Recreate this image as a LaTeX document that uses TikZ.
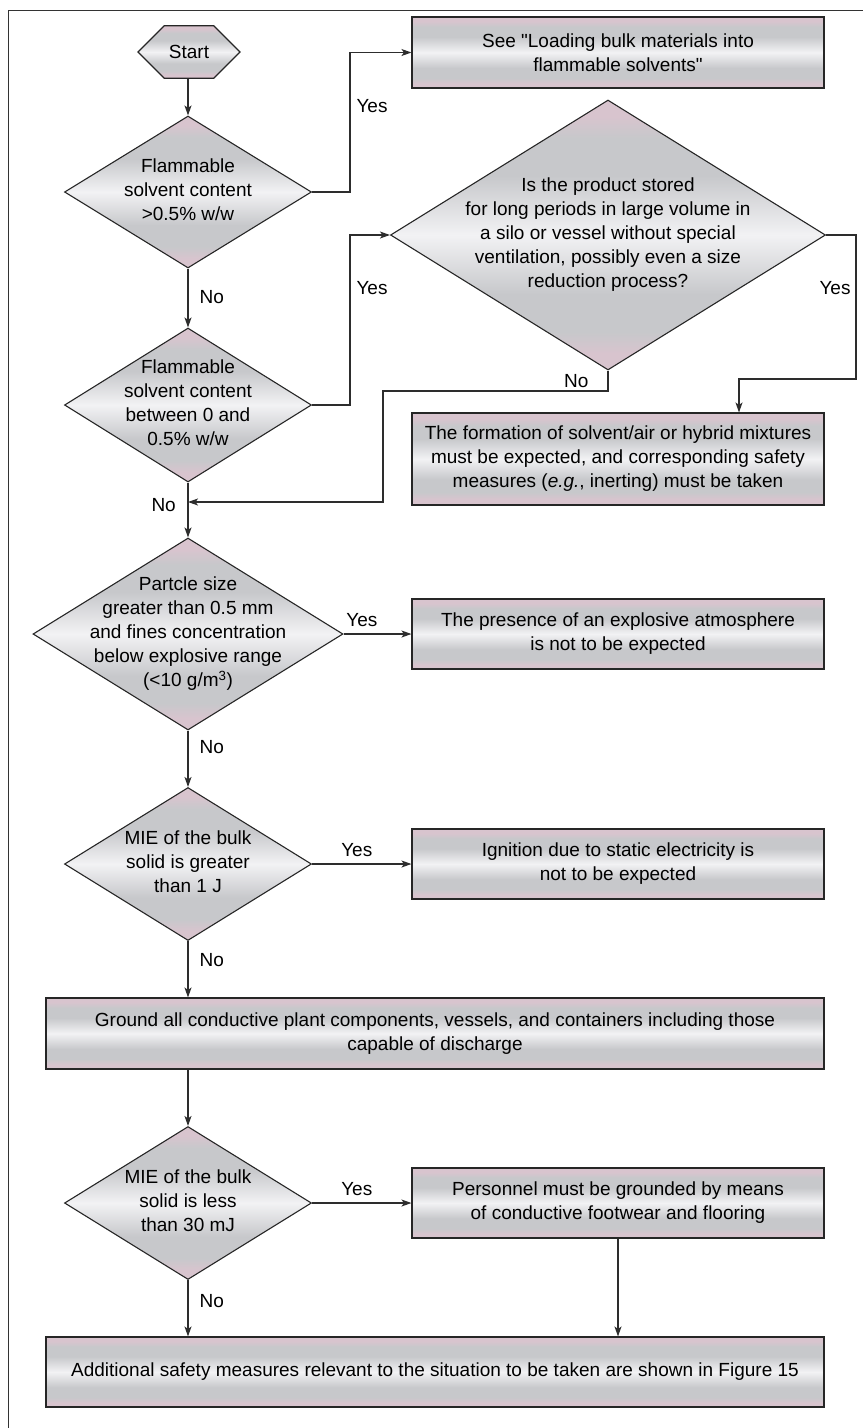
\documentclass[tikz,border=0pt]{standalone}
\usepackage{fontspec}
\setmainfont{Liberation Sans}
\usetikzlibrary{shapes.geometric, shapes.misc, arrows.meta}

\definecolor{boxpink}{RGB}{216,196,206}
\definecolor{boxgray}{RGB}{199,200,203}
\definecolor{boxlight}{RGB}{242,242,244}
\definecolor{linegray}{RGB}{45,45,45}

\pgfdeclareverticalshading{bands}{100bp}{color(0bp)=(boxpink); color(25bp)=(boxpink); color(28bp)=(boxpink); color(32bp)=(boxgray); color(39bp)=(boxgray); color(50bp)=(boxlight); color(61bp)=(boxgray); color(68bp)=(boxgray); color(72bp)=(boxpink); color(75bp)=(boxpink); color(100bp)=(boxpink)}

\tikzset{
  base/.style={draw=black!85, line width=1.1pt, shade, shading=bands, font=\fontsize{19}{24}\selectfont},
  decision/.style={base, diamond, inner sep=0pt},
  outcome/.style={base, rectangle, align=center, minimum width=412pt, minimum height=70pt, inner sep=0pt},
  startnode/.style={base, chamfered rectangle, chamfered rectangle xsep=13pt, chamfered rectangle ysep=19.5pt, minimum width=102pt, minimum height=39pt, inner sep=0pt},
  arr/.style={draw=linegray, line width=1.2pt, -{Stealth[length=10pt,width=7pt,inset=2.5pt]}},
  lbl/.style={font=\fontsize{19}{24}\selectfont, inner sep=1pt}
}
\newcommand{\dtext}[1]{\makebox[0pt]{\begin{tabular}{@{}c@{}}#1\end{tabular}}}

\begin{document}
\begin{tikzpicture}[x=1pt, y=-1pt]
\useasboundingbox (0,0) rectangle (863,1428);
\draw[black!80, line width=0.8pt] (8,1428) -- (8,10) -- (863,10);

% left column of questions
\node[startnode] (start) at (189,52) {Start};
\node[decision, minimum width=247pt, minimum height=152pt] (solv) at (188,192) {\dtext{Flammable\\ solvent content\\ >0.5\% w/w}};
\node[decision, minimum width=247pt, minimum height=154pt] (solvlow) at (188,405) {\dtext{Flammable\\ solvent content\\ between 0 and\\ 0.5\% w/w}};
\node[decision, minimum width=310pt, minimum height=192pt] (particle) at (188,634) {\dtext{Partcle size\\ greater than 0.5 mm\\ and fines concentration\\ below explosive range\\ (<10 g/m\textsuperscript{3})}};
\node[decision, minimum width=247pt, minimum height=153pt] (miehigh) at (188,864) {\dtext{MIE of the bulk\\ solid is greater\\ than 1 J}};
\node[decision, minimum width=247pt, minimum height=153pt] (mielow) at (188,1203) {\dtext{MIE of the bulk\\ solid is less\\ than 30 mJ}};

% right column
\node[outcome, minimum height=71pt] (see) at (618,52.5) {See \textquotedbl Loading bulk materials into\\ flammable solvents\textquotedbl};
\node[decision, minimum width=435pt, minimum height=270pt] (stored) at (608,235) {\dtext{Is the product stored\\ for long periods in large volume in\\ a silo or vessel without special\\ ventilation, possibly even a size\\ reduction process?}};
\node[outcome, minimum height=92pt] (hybrid) at (618,459) {The formation of solvent/air or hybrid mixtures\\ must be expected, and corresponding safety\\ measures (\textit{e.g.}, inerting) must be taken};
\node[outcome] (noatmos) at (618,634) {The presence of an explosive atmosphere\\ is not to be expected};
\node[outcome] (noign) at (618,864) {Ignition due to static electricity is\\ not to be expected};
\node[outcome, minimum width=778pt, minimum height=71pt] (ground) at (435,1033.5) {Ground all conductive plant components, vessels, and containers including those\\ capable of discharge};
\node[outcome] (personnel) at (618,1203) {Personnel must be grounded by means\\ of conductive footwear and flooring};
\node[outcome, minimum width=778pt] (extra) at (435,1372) {Additional safety measures relevant to the situation to be taken are shown in Figure 15};

\coordinate (join) at (188,502);
\coordinate (bend) at (383,391);
\coordinate (rt) at (856,379);
\coordinate (dn) at (739,379);

\draw[arr] (start.south -| solv.north) -- (solv.north);
\draw[arr] (solv.east) -- ++(38,0) |- (see.west);
\node[lbl] at (372,106) {Yes};
\draw[arr] (solv) -- node[lbl, pos=0.48, right=10pt] {No} (solvlow);
\draw[arr] (solvlow.east) -- ++(38,0) |- (stored.west);
\node[lbl] at (372,288) {Yes};
\draw[arr] (solvlow) -- (particle);
\node[lbl, anchor=east] at (177,505) {No};
\draw[arr] (stored.south) |- node[lbl, pos=0.25, left=18pt] {No} (bend) |- (join);
\draw[arr] (stored.east) -| (rt) -- (dn) -- (dn |- hybrid.north);
\node[lbl] at (835,288) {Yes};

\draw[arr] (particle.east) -- node[lbl, pos=0.27, above=6pt] {Yes} (noatmos.west);
\draw[arr] (particle) -- node[lbl, pos=0.3, right=10pt] {No} (miehigh);
\draw[arr] (miehigh.east) -- node[lbl, pos=0.45, above=6pt] {Yes} (noign.west);
\draw[arr] (miehigh.south) -- node[lbl, pos=0.33, right=10pt] {No} (miehigh.south |- ground.north);
\draw[arr] (ground.south -| mielow.north) -- (mielow.north);
\draw[arr] (mielow.east) -- node[lbl, pos=0.45, above=6pt] {Yes} (personnel.west);
\draw[arr] (mielow.south) -- node[lbl, pos=0.38, right=10pt] {No} (mielow.south |- extra.north);
\draw[arr] (personnel.south) -- (personnel.south |- extra.north);

\end{tikzpicture}
\end{document}
